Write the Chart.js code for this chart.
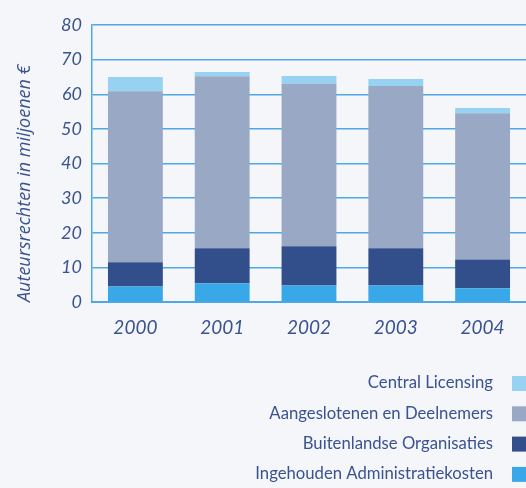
<!DOCTYPE html>
<html><head><meta charset="utf-8">
<script src="https://cdn.jsdelivr.net/npm/chart.js@4/dist/chart.umd.min.js"></script>
<style>
html,body{margin:0;padding:0;background:#f4f6fa;}
#wrap{position:relative;width:526px;height:488px;}
</style></head>
<body><div id="wrap"><canvas id="c" width="526" height="488"></canvas></div>
<script>
const years = ['2000','2001','2002','2003','2004'];
const ingehouden = [4.5, 5.4, 4.8, 4.8, 4.0];
const buitenlandse = [7.0, 10.1, 11.3, 10.7, 8.3];
const aangeslotenen = [49.4, 49.7, 46.9, 46.9, 42.2];
const centralLicensing = [4.1, 1.2, 2.3, 2.0, 1.5];
const yTicks = [0,10,20,30,40,50,60,70,80];
const yTitle = 'Auteursrechten in miljoenen €';

const textColor = '#3a5290';
const gridColor = '#4da8e3';

const legendPlugin = {
  id: 'sideLegend',
  afterDraw(chart) {
    const ctx = chart.ctx;
    const ds = chart.data.datasets.slice().reverse();
    ctx.save();
    ctx.font = '16.7px Lato, "Open Sans", sans-serif';
    ctx.textAlign = 'right';
    ctx.textBaseline = 'middle';
    ds.forEach((d, i) => {
      const y = 383 + i * 30.3;
      ctx.fillStyle = textColor;
      ctx.fillText(d.label, 493, y);
      ctx.fillStyle = d.backgroundColor;
      ctx.fillRect(512, y - 7, 16, 15);
    });
    ctx.restore();
  }
};

new Chart(document.getElementById('c'), {
  type: 'bar',
  data: {
    labels: years,
    datasets: [
      {label: 'Ingehouden Administratiekosten', data: ingehouden, backgroundColor: '#39a8e8'},
      {label: 'Buitenlandse Organisaties', data: buitenlandse, backgroundColor: '#324f8c'},
      {label: 'Aangeslotenen en Deelnemers', data: aangeslotenen, backgroundColor: '#99a8c4'},
      {label: 'Central Licensing', data: centralLicensing, backgroundColor: '#98d2f3'}
    ]
  },
  options: {
    responsive: false,
    animation: false,
    layout: {padding: {top: 25, right: 0, bottom: 140, left: 0}},
    plugins: {legend: {display: false}, tooltip: {enabled: false}},
    datasets: {bar: {categoryPercentage: 1, barPercentage: 0.632}},
    scales: {
      x: {
        stacked: true,
        grid: {display: false},
        border: {display: true, color: gridColor, width: 2},
        ticks: {color: textColor, font: {family: 'Lato, "Open Sans", sans-serif', size: 19, style: 'italic'}, padding: 6},
        afterFit(s) { s.height = 46; }
      },
      y: {
        stacked: true,
        min: 0, max: 80,
        afterBuildTicks(s) { s.ticks = yTicks.map(v => ({value: v})); },
        grid: {color: gridColor, lineWidth: 1.5, drawTicks: false},
        border: {display: true, color: gridColor, width: 1.5},
        ticks: {color: textColor, font: {family: 'Lato, "Open Sans", sans-serif', size: 18, style: 'italic'}, padding: 10},
        title: {display: true, text: yTitle, align: 'start', color: textColor, font: {family: '"Open Sans", Lato, sans-serif', size: 18, style: 'italic'}, padding: {top: 14, bottom: 0}},
        afterFit(s) { s.width = 92; }
      }
    }
  },
  plugins: [legendPlugin]
});
</script></body></html>
